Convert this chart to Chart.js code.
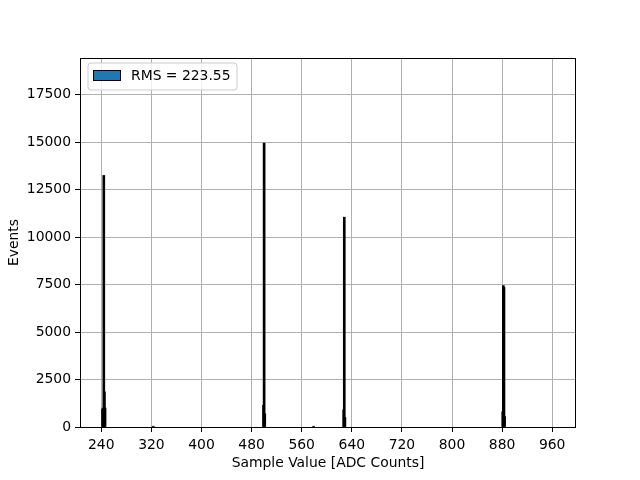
<!DOCTYPE html>
<html><head>
<meta charset="utf-8">
<script src="https://cdn.jsdelivr.net/npm/chart.js@4.4.1/dist/chart.umd.min.js"></script>
<style>html,body{margin:0;padding:0;background:#fff}</style>
</head><body>
<div style="width:640px;height:480px"><canvas id="c" width="640" height="480"></canvas></div>
<script>
// Histogram bins (ADC value) and event counts
const binValues = [242, 243, 244, 245, 246, 323, 499, 500, 501, 579, 627, 628, 629, 881, 882, 883, 884];
const binCounts = [950, 1000, 13250, 1850, 1000, 40, 1150, 14950, 700, 40, 900, 11050, 500, 800, 7450, 7350, 550];
const xTicks = [240, 320, 400, 480, 560, 640, 720, 800, 880, 960];
const yTicks = [0, 2500, 5000, 7500, 10000, 12500, 15000, 17500];
const legendLabel = 'RMS = 223.55';
const xRange = [206, 998];
const yRange = [0, 19435];

const FONT = 'DejaVu Sans';
const FS = 13.9;
const PATCH = '#1f77b4';

const framePlugin = {
  id: 'frame',
  afterDatasetsDraw(chart) {
    const {ctx, chartArea: a} = chart;
    ctx.save();
    ctx.strokeStyle = '#000';
    ctx.lineWidth = 1;
    ctx.strokeRect(Math.round(a.left) + 0.5, Math.round(a.top) + 0.5,
                   Math.round(a.right - a.left) - 1, Math.round(a.bottom - a.top));
    // legend
    const lx = a.left + 8, ly = a.top + 5, lw = 149, lh = 27, r = 3;
    ctx.fillStyle = 'rgba(255,255,255,0.8)';
    ctx.strokeStyle = '#cccccc';
    ctx.beginPath();
    ctx.moveTo(lx + r, ly);
    ctx.lineTo(lx + lw - r, ly); ctx.quadraticCurveTo(lx + lw, ly, lx + lw, ly + r);
    ctx.lineTo(lx + lw, ly + lh - r); ctx.quadraticCurveTo(lx + lw, ly + lh, lx + lw - r, ly + lh);
    ctx.lineTo(lx + r, ly + lh); ctx.quadraticCurveTo(lx, ly + lh, lx, ly + lh - r);
    ctx.lineTo(lx, ly + r); ctx.quadraticCurveTo(lx, ly, lx + r, ly);
    ctx.closePath();
    ctx.fill(); ctx.stroke();
    const ds = chart.data.datasets[0];
    ctx.fillStyle = PATCH;
    ctx.fillRect(lx + 5.5, ly + 7.5, 27, 10);
    ctx.strokeStyle = '#000';
    ctx.strokeRect(lx + 5.5, ly + 7.5, 27, 10);
    ctx.fillStyle = '#000';
    ctx.font = FS + 'px "' + FONT + '"';
    ctx.textBaseline = 'middle';
    ctx.textAlign = 'left';
    ctx.fillText(ds.label, lx + 43, ly + 13.5);
    ctx.restore();
  }
};

new Chart(document.getElementById('c'), {
  type: 'bar',
  data: {
    datasets: [{
      label: legendLabel,
      data: binValues.map((v, i) => ({x: v, y: binCounts[i]})),
      backgroundColor: '#000',
      borderColor: '#000',
      borderWidth: 0,
      barThickness: 2
    }]
  },
  options: {
    responsive: false,
    animation: false,
    devicePixelRatio: 1,
    layout: {padding: {top: 58, right: 64, left: 0, bottom: 0}},
    plugins: {legend: {display: false}, tooltip: {enabled: false}},
    scales: {
      x: {
        type: 'linear',
        min: xRange[0], max: xRange[1],
        offset: false,
        afterBuildTicks: s => { s.ticks = xTicks.map(v => ({value: v})); },
        afterFit: s => { s.height = 53; },
        grid: {color: '#b0b0b0', lineWidth: 1, tickLength: 5, tickColor: '#000', offset: false},
        border: {display: false},
        ticks: {color: '#000', font: {family: FONT, size: FS}, padding: 5, maxRotation: 0, autoSkip: false},
        title: {display: true, text: 'Sample Value [ADC Counts]', color: '#000', font: {family: FONT, size: FS}, padding: {top: 0, bottom: 8}}
      },
      y: {
        min: yRange[0], max: yRange[1],
        afterBuildTicks: s => { s.ticks = yTicks.map(v => ({value: v})); },
        afterFit: s => { s.width = 80; },
        grid: {color: '#b0b0b0', lineWidth: 1, tickLength: 5, tickColor: '#000'},
        border: {display: false},
        ticks: {color: '#000', font: {family: FONT, size: FS}, padding: 4, callback: v => String(v)},
        title: {display: true, text: 'Events', color: '#000', font: {family: FONT, size: FS}, padding: {top: 6, bottom: 0}}
      }
    }
  },
  plugins: [framePlugin]
});
</script>
</body></html>
